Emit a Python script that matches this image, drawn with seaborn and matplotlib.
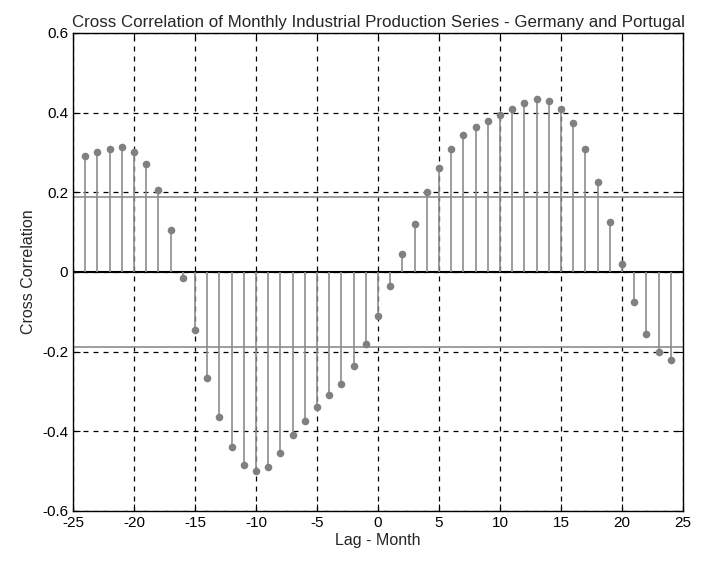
import numpy as np
import pandas as pd
import matplotlib
matplotlib.use('Agg')
import matplotlib.pyplot as plt
import seaborn as sns

# 시차(월)와 교차상관 값
lags = list(range(-24, 25))
ccf = [0.29, 0.30, 0.31, 0.315, 0.30, 0.27, 0.205, 0.105, -0.015, -0.145,
       -0.265, -0.365, -0.44, -0.485, -0.50, -0.49, -0.455, -0.41, -0.375, -0.34,
       -0.31, -0.28, -0.235, -0.18, -0.11, -0.035, 0.045, 0.12, 0.20, 0.26,
       0.31, 0.345, 0.365, 0.38, 0.395, 0.41, 0.425, 0.435, 0.43, 0.41,
       0.375, 0.31, 0.225, 0.125, 0.02, -0.075, -0.155, -0.20, -0.22]
conf = 0.188  # 신뢰구간 경계
xticks = list(range(-25, 26, 5))
yticks = [-0.6, -0.4, -0.2, 0, 0.2, 0.4, 0.6]

df = pd.DataFrame({'lag': lags, 'ccf': ccf})

sns.set_style('white')
plt.rcParams['font.family'] = ['Liberation Sans Narrow', 'Liberation Sans', 'DejaVu Sans']
plt.rcParams['axes.unicode_minus'] = False

fig = plt.figure(figsize=(7.04, 5.65), dpi=100)
ax = fig.add_axes([0.1037, 0.0956, 0.8665, 0.846])

ax.vlines(df['lag'], 0, df['ccf'], color='#8c8c8c', lw=1.2, zorder=2)
sns.scatterplot(data=df, x='lag', y='ccf', ax=ax, color='#808080', s=30,
                edgecolor='#808080', linewidth=0, zorder=3, legend=False)

ax.axhline(conf, color='#8c8c8c', lw=1.2, zorder=1)
ax.axhline(-conf, color='#8c8c8c', lw=1.2, zorder=1)
ax.axhline(0, color='black', lw=1.5, zorder=1)

ax.set_xlim(-25, 25)
ax.set_ylim(-0.6, 0.6)
ax.set_xticks(xticks)
ax.set_yticks(yticks)
ax.set_yticklabels(['-0.6', '-0.4', '-0.2', '0', '0.2', '0.4', '0.6'])
ax.grid(True, color='black', ls=(0, (4, 4)), lw=0.9)
ax.tick_params(direction='in', length=5, labelsize=11, colors='black',
               top=True, right=True, bottom=True, left=True)
for s in ax.spines.values():
    s.set_color('black')
    s.set_linewidth(1)

ax.set_title('Cross Correlation of Monthly Industrial Production Series - Germany and Portugal',
             fontsize=12.2, pad=4)
ax.set_xlabel('Lag - Month', fontsize=11.5, labelpad=2)
ax.set_ylabel('Cross Correlation', fontsize=11.5, labelpad=4)

fig.savefig('out.png', dpi=100)
